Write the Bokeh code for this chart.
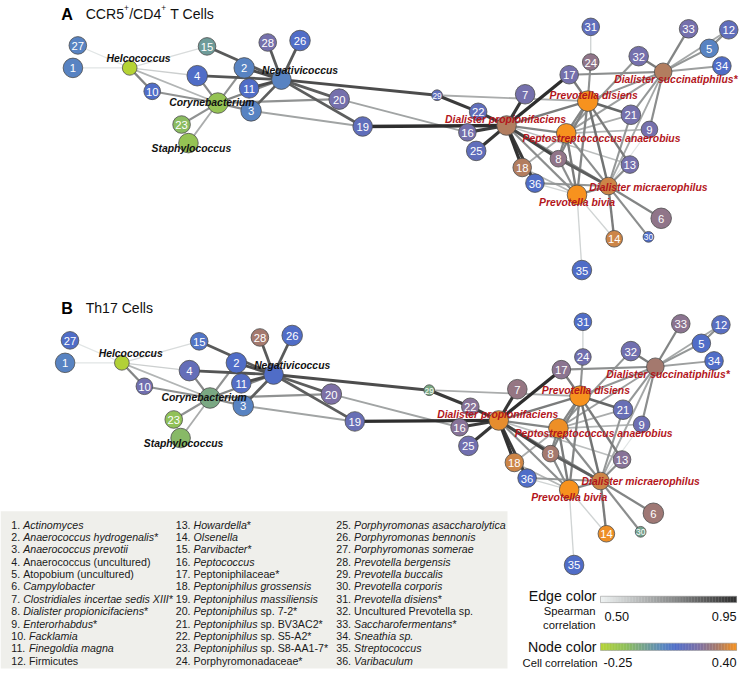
import numpy as np
from bokeh.plotting import figure
from bokeh.models import ColumnDataSource, Range1d
from bokeh.embed import file_html
from bokeh.resources import INLINE
from bokeh.core.properties import value

# ---------------- data ----------------
NODE_IDS = [str(i) for i in range(1, 37)] + ["Hel", "Neg", "Cor", "Sta", "DP", "PD", "DS", "PA", "DM", "PB"]
NODE_NAMES = {
    "Hel": "Helcococcus", "Neg": "Negativicoccus", "Cor": "Corynebacterium",
    "Sta": "Staphylococcus", "DP": "Dialister propionifaciens", "PD": "Prevotella disiens",
    "DS": "Dialister succinatiphilus*", "PA": "Peptostreptococcus anaerobius",
    "DM": "Dialister micraerophilus", "PB": "Prevotella bivia",
}
# network layout (same layout for both panels)
LAYOUT_X = [74, 249, 256, 201, 724, 675, 536, 570, 663, 155, 254, 744, 643, 627, 211, 477, 581, 533,
            370, 346, 644, 488, 185, 603, 486, 306, 79, 273, 446, 662, 603, 652, 703, 737, 594, 546,
            132, 287, 222, 192, 517, 600, 677, 578, 621, 589]
LAYOUT_Y = [69, 69, 113, 77, 49, 223, 96, 162, 132, 93, 90, 30, 168, 244, 47, 135, 76, 171,
            129, 101, 117, 114, 127, 63, 154, 41, 46, 43, 97, 242, 27, 57, 29, 67, 276, 187,
            69, 81, 105, 146, 128, 103, 73, 136, 190, 199]
NODE_SIZE = [20, 21, 21, 21, 19, 21, 20, 17, 17, 17, 20, 19, 18, 17, 18, 18, 19, 19,
             20, 21, 20, 18, 18, 17, 20, 21, 18, 18, 11, 11, 18, 20, 19, 19, 20, 19,
             15, 20, 21, 20, 20, 21, 18, 20, 18, 20]
# node colour: cell correlation
CELL_CORR_A = [0.06, 0.06, 0.06, 0.11, 0.06, 0.26, 0.20, 0.26, 0.20, 0.11, 0.11, 0.15, 0.20, 0.35, -0.02, 0.20, 0.20, 0.32,
               0.15, 0.20, 0.20, 0.15, -0.12, 0.26, 0.15, 0.11, 0.06, 0.20, 0.15, 0.11, 0.15, 0.20, 0.20, 0.11, 0.11, 0.11,
               -0.25, 0.06, -0.15, -0.15, 0.32, 0.40, 0.32, 0.40, 0.35, 0.40]
CELL_CORR_B = [0.06, 0.11, 0.06, 0.16, 0.11, 0.29, 0.27, 0.30, 0.18, 0.19, 0.12, 0.13, 0.24, 0.39, 0.09, 0.24, 0.25, 0.35,
               0.17, 0.22, 0.17, 0.24, -0.14, 0.19, 0.19, 0.11, 0.11, 0.30, -0.06, -0.04, 0.11, 0.19, 0.25, 0.11, 0.11, 0.11,
               -0.24, 0.11, -0.06, -0.11, 0.38, 0.40, 0.30, 0.39, 0.35, 0.40]
# edges: (from, to, Spearman correlation)
EDGES = [
    ("27", "Hel", 0.53), ("1", "Hel", 0.53), ("Hel", "15", 0.55), ("Hel", "4", 0.58), ("Hel", "Cor", 0.64),
    ("Hel", "10", 0.75), ("10", "Cor", 0.72), ("15", "Neg", 0.85), ("2", "Neg", 0.88), ("4", "Neg", 0.86),
    ("11", "Neg", 0.88), ("3", "Neg", 0.84), ("2", "Cor", 0.72), ("Cor", "Neg", 0.75), ("Cor", "20", 0.72),
    ("Cor", "3", 0.74), ("3", "19", 0.68), ("Cor", "23", 0.72), ("Cor", "Sta", 0.66), ("4", "Cor", 0.74),
    ("28", "Neg", 0.85), ("26", "Neg", 0.85), ("Neg", "20", 0.84), ("Neg", "19", 0.84), ("Neg", "29", 0.88),
    ("20", "16", 0.68), ("19", "DP", 0.95), ("29", "22", 0.92), ("29", "PD", 0.66), ("22", "DP", 0.92),
    ("16", "DP", 0.92), ("25", "DP", 0.93), ("7", "DP", 0.93), ("17", "DP", 0.95), ("DP", "18", 0.94),
    ("DP", "36", 0.92), ("DP", "8", 0.90), ("DP", "PD", 0.77), ("DP", "PA", 0.75), ("DP", "DM", 0.75),
    ("DP", "PB", 0.73), ("DP", "13", 0.62), ("31", "24", 0.57), ("24", "PD", 0.72), ("17", "PD", 0.77),
    ("17", "DS", 0.73), ("32", "DS", 0.77), ("32", "PA", 0.71), ("33", "DS", 0.75), ("12", "5", 0.73),
    ("5", "DS", 0.71), ("34", "DS", 0.69), ("12", "DS", 0.67), ("DS", "21", 0.71), ("DS", "9", 0.73),
    ("DS", "PA", 0.69), ("DS", "DM", 0.67), ("DS", "PD", 0.71), ("PD", "21", 0.82), ("PD", "PA", 0.75),
    ("PD", "8", 0.75), ("PD", "DM", 0.79), ("PD", "PB", 0.75), ("PD", "13", 0.77), ("PA", "9", 0.64),
    ("PA", "21", 0.66), ("PA", "18", 0.66), ("PA", "8", 0.75), ("PA", "PB", 0.77), ("PA", "DM", 0.73),
    ("9", "DM", 0.53), ("8", "DM", 0.84), ("8", "PB", 0.73), ("36", "DM", 0.71), ("36", "PB", 0.57),
    ("13", "DM", 0.73), ("21", "DM", 0.71), ("DM", "PB", 0.75), ("DM", "6", 0.75), ("DM", "30", 0.73),
    ("DM", "14", 0.77), ("PB", "14", 0.57), ("PB", "35", 0.57), ("18", "PB", 0.64),
]
# legend of taxa (_..._ = italic)
TAXA = [
    "_Actinomyces_", "_Anaerococcus hydrogenalis_*", "_Anaerococcus prevotii_", "Anaerococcus (uncultured)",
    "Atopobium (uncultured)", "_Campylobacter_", "_Clostridiales incertae sedis XIII_*", "_Dialister propionicifaciens_*",
    "_Enterorhabdus_*", "_Facklamia_", "_Finegoldia magna_", "Firmicutes",
    "_Howardella_*", "_Olsenella_", "_Parvibacter_*", "_Peptococcus_",
    "Peptoniphilaceae*", "_Peptoniphilus grossensis_", "_Peptoniphilus massiliensis_", "_Peptoniphilus_ sp. 7-2*",
    "_Peptoniphilus_ sp. BV3AC2*", "_Peptoniphilus_ sp. S5-A2*", "_Peptoniphilus_ sp. S8-AA1-7*", "Porphyromonadaceae*",
    "_Porphyromonas asaccharolytica_", "_Porphyromonas bennonis_", "_Porphyromonas somerae_", "_Prevotella bergensis_",
    "_Prevotella buccalis_", "_Prevotella corporis_", "_Prevotella disiens_*", "Uncultured Prevotella sp.",
    "_Saccharofermentans_*", "_Sneathia sp._", "_Streptococcus_", "_Varibaculum_",
]
EDGE_RANGE = (0.50, 0.95)
NODE_RANGE = (-0.25, 0.40)
PANEL_TITLES = [("A", "CCR5", "/CD4", " T Cells"), ("B", "Th17 Cells", None, None)]

# ---------------- styling / layout ----------------
W, H = 739, 669
RW, RH = 755, 685
SCALE = W / RW
FONT = "Liberation Sans"
PANEL_SHIFT = [(0, 0), (-8, 302)]
LABEL_OFFSET = {"Hel": (9, -10), "Neg": (19, -9), "Cor": (-6, -1), "Sta": (3, 6), "DP": (-1, -6),
                "PD": (6, -6), "DS": (13, 8), "PA": (36, 5), "DM": (41, 1), "PB": (0, 8)}
LEFT_GROUP = {"Hel", "Neg", "Cor", "Sta"}
NODE_STOPS = [(0.0, "#b5d334"), (0.18, "#8fc05a"), (0.35, "#6f9c98"), (0.46, "#5a88c0"),
              (0.55, "#4f6dc8"), (0.72, "#7c70a6"), (0.86, "#a87a68"), (1.0, "#f7921e")]
EDGE_STOPS = [(0.0, "#eef2f2"), (1.0, "#2e2e2e")]

REG_W = {}
for chars, w in [("'", 191), ("ijl", 222), (" ,./:;![]Ift", 278), ("()-r", 333), ("*", 389),
                 ("Jckvxyzs", 500), ("0123456789abdeghnopquL", 556), ("+", 584), ("FTZ", 611),
                 ("ABEKPSVXY", 667), ("CDHNRUw", 722), ("GOQ", 778), ("Mm", 833), ("W", 944)]:
    for c in chars:
        REG_W[c] = w


def tw(s, size):
    return sum(REG_W.get(c, 556) for c in s) / 1000.0 * size


def fs(px):
    return f"{px * SCALE:.2f}px"


def hex2rgb(h):
    return np.array([int(h[i:i + 2], 16) for i in (1, 3, 5)], dtype=float)


def cmap(stops, t):
    t = min(max(t, 0.0), 1.0)
    for (p0, c0), (p1, c1) in zip(stops[:-1], stops[1:]):
        if t <= p1:
            f = (t - p0) / (p1 - p0) if p1 > p0 else 0
            c = hex2rgb(c0) * (1 - f) + hex2rgb(c1) * f
            return "#%02x%02x%02x" % tuple(int(round(v)) for v in c)
    return stops[-1][1]


p = figure(width=W, height=H, x_range=Range1d(0, RW), y_range=Range1d(RH, 0),
           output_backend="svg", toolbar_location=None, x_axis_location=None, y_axis_location=None,
           min_border=0, min_border_left=0, min_border_right=0, min_border_top=0, min_border_bottom=0)
p.grid.visible = False
p.outline_line_color = None

idx = {n: i for i, n in enumerate(NODE_IDS)}

for pi, (dx, dy) in enumerate(PANEL_SHIFT):
    xs = [x + dx for x in LAYOUT_X]
    ys = [y + dy for y in LAYOUT_Y]
    corr = CELL_CORR_A if pi == 0 else CELL_CORR_B
    # edges
    e = dict(x0=[], y0=[], x1=[], y1=[], c=[], w=[])
    order = sorted(EDGES, key=lambda t: t[2])
    for a, b, r in order:
        t = (r - EDGE_RANGE[0]) / (EDGE_RANGE[1] - EDGE_RANGE[0])
        e["x0"].append(xs[idx[a]]); e["y0"].append(ys[idx[a]])
        e["x1"].append(xs[idx[b]]); e["y1"].append(ys[idx[b]])
        e["c"].append(cmap(EDGE_STOPS, t))
        e["w"].append(1.0 + 2.3 * t)
    p.segment("x0", "y0", "x1", "y1", source=ColumnDataSource(e), line_color="c", line_width="w")
    # nodes
    cols = [cmap(NODE_STOPS, (v - NODE_RANGE[0]) / (NODE_RANGE[1] - NODE_RANGE[0])) for v in corr]
    p.scatter(xs, ys, size=[s * SCALE for s in NODE_SIZE], fill_color=cols, line_color="#4d4d4d",
              line_width=0.8)
    # numbers
    num = dict(x=[], y=[], t=[], f=[])
    for i, n in enumerate(NODE_IDS):
        if n.isdigit():
            num["x"].append(xs[i]); num["y"].append(ys[i] + 0.5); num["t"].append(n)
            num["f"].append(fs(8.5) if NODE_SIZE[i] < 14 else fs(11.5))
    p.text("x", "y", text="t", source=ColumnDataSource(num), text_color="white", text_font=value(FONT),
           text_font_size="f", text_align="center", text_baseline="middle")
    # named labels
    for key, (ox, oy) in LABEL_OFFSET.items():
        i = idx[key]
        p.text([xs[i] + ox], [ys[i] + oy], text=[NODE_NAMES[key]],
               text_color="#111111" if key in LEFT_GROUP else "#b3161c", text_font=value(FONT),
               text_font_size=fs(10.6), text_font_style="bold italic", text_align="center",
               text_baseline="middle")


def place(x, s, size):
    """strip leading spaces (SVG collapses them) and return (x_start, text)."""
    stripped = s.lstrip(" ")
    return x + tw(s[:len(s) - len(stripped)], size), stripped


# panel titles
for (letter, t1, t2, t3), ty in zip(PANEL_TITLES, [13.5, 315]):
    p.text([62], [ty], text=[letter], text_font=value(FONT), text_font_size=fs(16.5),
           text_font_style="bold", text_color="black", text_baseline="alphabetic")
    x = 87
    ts = 14.4
    pieces = [t1] if t2 is None else [t1, "+", t2, "+", t3]
    for piece in pieces:
        sup = piece == "+"
        size = 8.5 if sup else ts
        x0, txt = place(x, piece, size)
        p.text([x0], [ty - (5.5 if sup else 0)], text=[txt], text_font=value(FONT), text_font_size=fs(size),
               text_color="#111111", text_baseline="alphabetic")
        x += tw(piece, size) + (0.3 if sup else 0)

# legend box
p.quad(left=[0], right=[518], top=[523], bottom=[684], fill_color="#efefeb", line_color=None)
LEG_FS = 10.9
COL_X = [11, 179, 343]
ROW_Y0, ROW_DY = 536.6, 12.67
reg = dict(x=[], y=[], t=[])
ita = dict(x=[], y=[], t=[])
for i, entry in enumerate(TAXA):
    col, row = divmod(i, 12)
    x = COL_X[col]
    y = ROW_Y0 + row * ROW_DY
    parts = [(f"{i + 1}. ", False)]
    for k, seg in enumerate(entry.split("_")):
        if seg:
            parts.append((seg, k % 2 == 1))
    for seg, it in parts:
        d = ita if it else reg
        x0, txt = place(x, seg, LEG_FS)
        d["x"].append(x0); d["y"].append(y); d["t"].append(txt)
        x += tw(seg, LEG_FS)
for d, style in [(reg, "normal"), (ita, "italic")]:
    p.text("x", "y", text="t", source=ColumnDataSource(d), text_font=value(FONT), text_font_size=fs(LEG_FS),
           text_font_style=style, text_color="#1a1a1a", text_baseline="middle")

# colour bars
BX0, BX1 = 613, 752
N = 90
edges_x = np.linspace(BX0, BX1, N + 1)
for (yt, yb, stops) in [(610, 616.5, EDGE_STOPS), (658, 665.5, NODE_STOPS)]:
    cols = [cmap(stops, (k + 0.5) / N) for k in range(N)]
    p.quad(left=edges_x[:-1], right=edges_x[1:] + 0.3, top=yt, bottom=yb, fill_color=cols, line_color=None)
    p.quad(left=[BX0], right=[BX1], top=[yt], bottom=[yb], fill_color=None, line_color="#9a9a9a",
           line_width=0.6)


def label(x, y, s, size, align):
    p.text([x], [y], text=[s], text_font=value(FONT), text_font_size=fs(size), text_align=align,
           text_baseline="middle", text_color="#111111")


label(609, 610, "Edge color", 14.5, "right")
label(608, 625, "Spearman", 11.5, "right")
label(608, 639, "correlation", 11.5, "right")
label(617, 631, f"{EDGE_RANGE[0]:.2f}", 13, "left")
label(752, 631, f"{EDGE_RANGE[1]:.2f}", 13, "right")
label(609, 662, "Node color", 14.5, "right")
label(610, 678, "Cell correlation", 11.5, "right")
label(616, 678, f"{NODE_RANGE[0]:.2f}", 13, "left")
label(752, 678, f"{NODE_RANGE[1]:.2f}", 13, "right")

open("out.html", "w").write(file_html(p, INLINE))
